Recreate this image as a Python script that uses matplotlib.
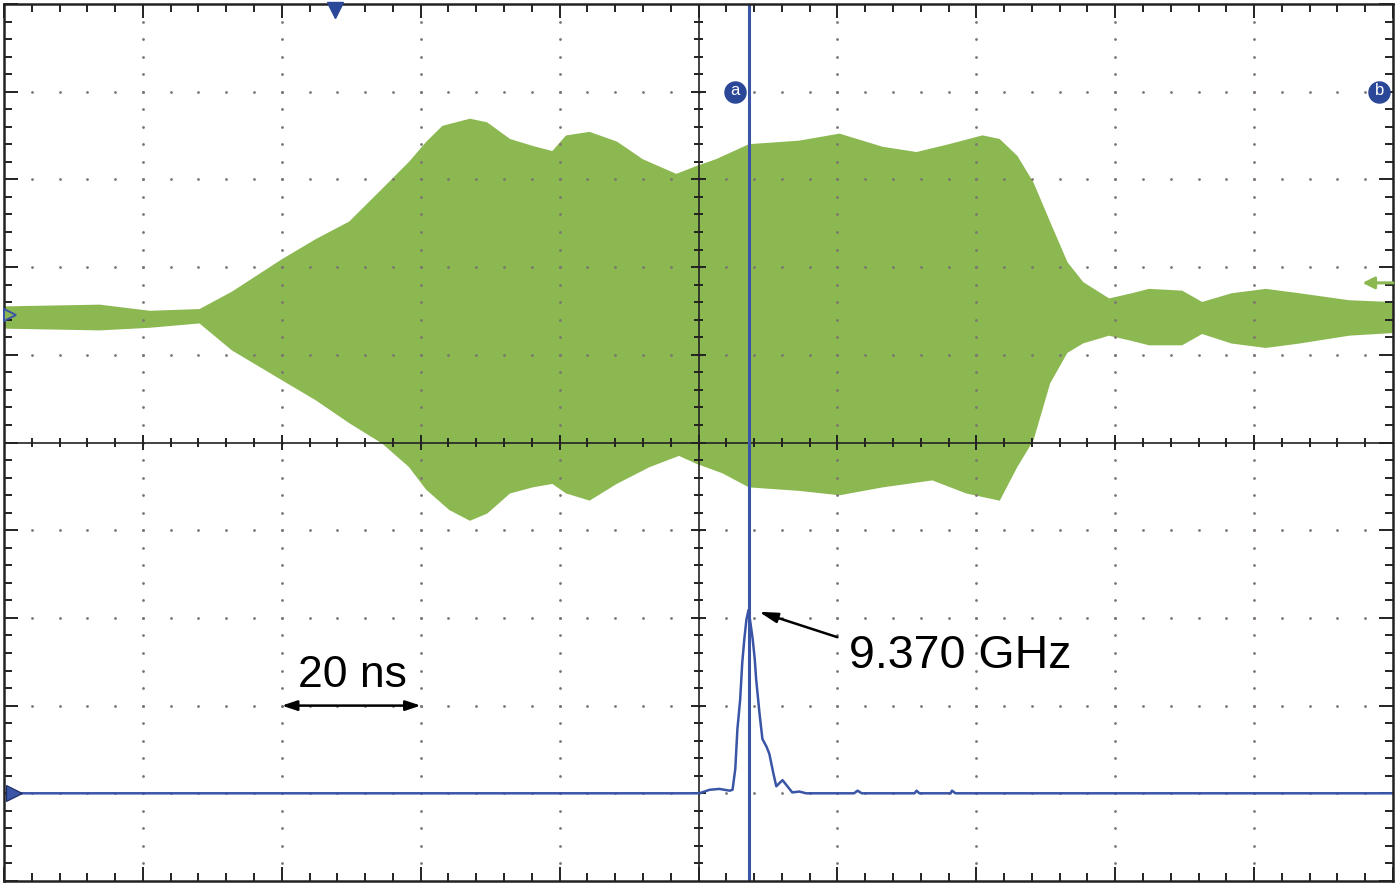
import matplotlib.pyplot as plt
import numpy as np

# ---------------------------------------------------------------------------
# Data (x in ns, 20 ns/div; y in divisions)
# ---------------------------------------------------------------------------
upper_t = [0.0, 13.8, 21.0, 28.2, 32.9, 40.1, 45.0, 49.8, 54.5, 58.4, 60.9, 63.2,
           67.1, 69.5, 72.8, 76.1, 79.0, 81.0, 84.3, 88.2, 91.9, 96.8, 99.7, 102.6,
           107.3, 114.5, 120.3, 126.5, 131.4, 136.1, 140.9, 143.3, 145.8, 148.1,
           150.5, 153.0, 155.3, 159.1, 162.4, 164.9, 169.6, 172.5, 176.8, 181.7,
           186.5, 193.7, 200.0]
upper_v = [1.54, 1.56, 1.49, 1.51, 1.71, 2.08, 2.31, 2.51, 2.88, 3.19, 3.42, 3.60,
           3.68, 3.64, 3.45, 3.37, 3.31, 3.49, 3.53, 3.42, 3.22, 3.05, 3.14, 3.22,
           3.39, 3.43, 3.51, 3.36, 3.30, 3.39, 3.49, 3.45, 3.26, 2.96,
           2.51, 2.05, 1.82, 1.63, 1.69, 1.74, 1.72, 1.59, 1.69, 1.74,
           1.69, 1.61, 1.59]

lower_t = [0.0, 13.8, 21.0, 28.2, 32.9, 40.1, 45.0, 49.8, 54.5, 58.4, 60.9, 64.2,
           67.1, 69.5, 72.8, 76.1, 79.0, 81.0, 84.3, 88.2, 92.9, 97.2, 99.7, 103.5,
           107.3, 114.5, 120.3, 126.5, 133.7, 138.6, 143.3, 145.8, 148.1, 150.5,
           153.0, 155.3, 159.1, 162.4, 164.9, 169.6, 172.5, 176.8, 181.7, 186.5,
           193.7, 200.0]
lower_v = [1.31, 1.29, 1.32, 1.37, 1.06, 0.72, 0.49, 0.23, 0.00, -0.27, -0.53, -0.76,
           -0.88, -0.80, -0.57, -0.50, -0.46, -0.57, -0.65, -0.46, -0.27, -0.14, -0.23, -0.34,
           -0.50, -0.54, -0.59, -0.50, -0.42, -0.57, -0.65, -0.27, 0.03, 0.68,
           1.03, 1.14, 1.23, 1.17, 1.12, 1.12, 1.25, 1.14, 1.09, 1.14,
           1.23, 1.26]

spec_t = [0.0, 100.1, 101.6, 103.0, 104.5, 104.9, 105.3, 105.6, 106.0, 106.3,
          106.6, 106.9, 107.2, 107.5, 107.8, 108.1, 108.3, 108.8, 109.2, 109.8,
          110.2, 110.8, 111.2, 111.7, 112.1, 112.7, 113.5, 114.5, 115.5, 122.4,
          122.9, 123.5, 131.1, 131.4, 131.8, 136.3, 136.5, 137.0, 200.0]
spec_v = [-4.00, -4.00, -3.96, -3.95, -3.97, -3.96, -3.72, -3.27, -2.93, -2.51,
          -2.24, -2.02, -1.91, -2.07, -2.24, -2.47, -2.70, -3.10, -3.38, -3.47,
          -3.55, -3.78, -3.92, -3.88, -3.85, -3.91, -3.99, -3.98, -4.00, -4.00,
          -3.97, -4.00, -4.00, -3.97, -4.00, -4.00, -3.97, -4.00, -4.00]

cursor_a = 107.2
cursor_b = 198.0
trigger_t = 47.6
green_level = 1.45
green_ref = 1.82
blue_level = -4.0
peak_label = "9.370 GHz"
scale_label = "20 ns"

GREEN = "#8cb852"
BLUE = "#3a55a6"
DOT = "#7d7474"

# ---------------------------------------------------------------------------
# Figure / screen frame
# ---------------------------------------------------------------------------
fig = plt.figure(figsize=(14, 8.87), dpi=100)
ax = fig.add_axes([4 / 1400, 5 / 887, 1389 / 1400, 877 / 887])
ax.set_xlim(0, 200)
ax.set_ylim(-5, 5)

for s in ax.spines.values():
    s.set_linewidth(1.8)
    s.set_color("#222222")
    s.set_zorder(6)

ax.set_xticks(np.arange(0, 201, 20))
ax.set_xticks(np.arange(0, 201, 4), minor=True)
ax.set_yticks(np.arange(-5, 5.01, 1))
ax.set_yticks(np.arange(-5, 5.01, 0.2), minor=True)
ax.tick_params(which="both", direction="in", top=True, right=True,
               labelbottom=False, labelleft=False, color="#222222")
ax.tick_params(which="major", length=10, width=1.4)
ax.tick_params(which="minor", length=5.5, width=1.4)

# dotted graticule
for xg in np.arange(20, 200, 20):
    if xg == 100:
        continue
    ys = np.arange(-4.8, 4.81, 0.2)
    ax.scatter(np.full(len(ys), xg), ys, s=4, color=DOT, lw=0, zorder=2)
for yg in np.arange(-4, 5, 1):
    if yg == 0:
        continue
    xs = np.arange(4, 197, 4)
    ax.scatter(xs, np.full(len(xs), yg), s=4, color=DOT, lw=0, zorder=2)

# ---------------------------------------------------------------------------
# Green time-domain signal (filled envelope)
# ---------------------------------------------------------------------------
poly_t = np.concatenate([upper_t, lower_t[::-1]])
poly_v = np.concatenate([upper_v, lower_v[::-1]])
ax.fill(poly_t, poly_v, color=GREEN, ec=GREEN, lw=1.5, zorder=1)

# center crosshair with cross ticks
ax.axhline(0, color="#222222", lw=1.2, zorder=3)
ax.axvline(100, color="#222222", lw=1.2, zorder=3)
xt = np.arange(4, 200, 4)
ax.scatter(xt, np.zeros(len(xt)), marker="|", s=np.where(xt % 20 == 0, 110, 45),
           color="#222222", lw=1.4, zorder=3)
yt = np.arange(-4.8, 4.81, 0.2)
ax.scatter(np.full(len(yt), 100), yt, marker="_",
           s=np.where(np.isclose(yt, np.round(yt)), 110, 45),
           color="#222222", lw=1.4, zorder=3)

# ---------------------------------------------------------------------------
# Blue spectrum trace and cursors
# ---------------------------------------------------------------------------
ax.plot(spec_t, spec_v, color=BLUE, lw=1.8, zorder=4)
ax.axvline(cursor_a, color=BLUE, lw=2.2, zorder=5)

for xc, lab in [(cursor_a - 2.0, "a"), (cursor_b, "b")]:
    ax.scatter([xc], [4.0], s=230, color="#2b4797", zorder=7, clip_on=False)
    ax.text(xc, 4.02, lab, color="white", fontsize=12,
            ha="center", va="center", zorder=8, family="Liberation Sans")

ax.plot([trigger_t], [4.93], marker="v", markersize=12, color="#2b4797",
        zorder=7, clip_on=False)
ax.plot([0.9], [green_level], marker=">", markersize=9, color=GREEN,
        mec=BLUE, mew=1.4, zorder=7, clip_on=False)
ax.plot([1.4], [blue_level], marker=">", markersize=12, color=BLUE,
        mec="#1a2a60", mew=0.8, zorder=7, clip_on=False)
ax.annotate("", xy=(195.6, green_ref), xytext=(200, green_ref),
            arrowprops=dict(arrowstyle="-|>,head_length=0.7,head_width=0.35",
                            color=GREEN, lw=2.2, shrinkA=0, shrinkB=0), zorder=7)

# ---------------------------------------------------------------------------
# Annotations
# ---------------------------------------------------------------------------
ax.annotate("", xy=(108.7, -1.93), xytext=(120.0, -2.22),
            arrowprops=dict(arrowstyle="-|>,head_length=1.1,head_width=0.3",
                            color="black", lw=1.8, shrinkA=0, shrinkB=0), zorder=8)
ax.text(121.7, -2.56, peak_label, fontsize=33.5, family="Liberation Sans",
        ha="left", va="baseline", color="black", zorder=8)

ax.annotate("", xy=(40, -3.0), xytext=(60, -3.0),
            arrowprops=dict(arrowstyle="<|-|>,head_length=0.9,head_width=0.3",
                            color="black", lw=1.8, shrinkA=0, shrinkB=0), zorder=8)
ax.text(50.2, -2.78, scale_label, fontsize=32, family="Liberation Sans",
        ha="center", va="baseline", color="black", zorder=8)

fig.savefig("out.png", dpi=100)
